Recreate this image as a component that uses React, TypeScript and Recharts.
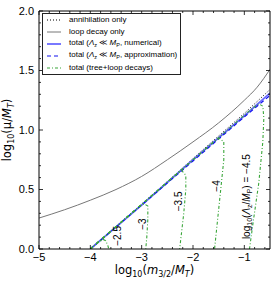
import { LineChart, Line, XAxis, YAxis, Legend, ReferenceDot, ReferenceLine } from 'recharts';

const FONT = '"Liberation Sans", Arial, sans-serif';
const MATH = '"DejaVu Sans", sans-serif';

// axis ticks
const xMajor = [-5, -4, -3, -2, -1];
const xMinor = [-4.8, -4.6, -4.4, -4.2, -3.8, -3.6, -3.4, -3.2, -2.8, -2.6, -2.4, -2.2, -1.8, -1.6, -1.4, -1.2, -0.8, -0.6];
const yMajor = [0, 0.5, 1, 1.5, 2];
const yMinor = [0.1, 0.2, 0.3, 0.4, 0.6, 0.7, 0.8, 0.9, 1.1, 1.2, 1.3, 1.4, 1.6, 1.7, 1.8, 1.9];

// loop decay only
const loopX = [-5, -4.5, -4, -3.5, -3, -2.5, -2, -1.5, -1, -0.75, -0.5];
const loopY = [0.26, 0.33, 0.41, 0.5, 0.61, 0.75, 0.9, 1.06, 1.25, 1.36, 1.51];

// annihilation only
const annX = [-4, -3, -2, -1, -0.5];
const annY = [0, 0.37, 0.76, 1.14, 1.34];

// total, numerical / approximation
const totX = [-4, -3, -2, -1, -0.5];
const numY = [0, 0.37, 0.75, 1.12, 1.31];
const apxY = [0, 0.37, 0.74, 1.11, 1.29];

// total (tree+loop decays), one curve per log10(Λz/MP)
const tree25X = [-4, -3.85, -3.75, -3.7, -3.66, -3.64];
const tree25Y = [0, 0.056, 0.08, 0.07, 0.03, 0];
const tree30X = [-4, -3.05, -2.95, -2.88, -2.88, -2.9, -2.92];
const tree30Y = [0, 0.356, 0.38, 0.36, 0.25, 0.1, 0];
const tree35X = [-4, -2.35, -2.22, -2.14, -2.14, -2.18, -2.26];
const tree35Y = [0, 0.62, 0.66, 0.62, 0.5, 0.3, 0];
const tree40X = [-4, -1.6, -1.48, -1.4, -1.4, -1.46, -1.52, -1.58];
const tree40Y = [0, 0.9, 0.93, 0.9, 0.75, 0.5, 0.25, 0];
const tree45X = [-4, -0.85, -0.72, -0.64, -0.62, -0.64, -0.72, -0.82, -0.9];
const tree45Y = [0, 1.18, 1.22, 1.2, 1.1, 0.9, 0.55, 0.25, 0];

const treeCurves = [
  { name: '-2.5', xs: tree25X, ys: tree25Y },
  { name: '-3', xs: tree30X, ys: tree30Y },
  { name: '-3.5', xs: tree35X, ys: tree35Y },
  { name: '-4', xs: tree40X, ys: tree40Y },
  { name: '-4.5', xs: tree45X, ys: tree45Y },
];

// curve labels (log10(Λz/MP) values) placed next to the drops
const curveLabelText = ['−2.5', '−3', '−3.5', '−4', '−4.5'];
const curveLabelX = [-3.48, -2.99, -2.29, -1.55, -0.96];
const curveLabelY = [0.11, 0.21, 0.4, 0.53, 0.44];

const pts = (xs: number[], ys: number[]) => xs.map((x, i) => ({ x, y: ys[i] }));

const GREEN = '#3aa63a';
const GREEN_DASH = '3 2 1 2';

const minus = (v: number) => (v < 0 ? '−' + Math.abs(v) : String(v));

// inward tick marks on both ends of a reference line (matplotlib style box ticks)
const vTicks = (len: number) => (p: any) => {
  const top = Math.min(p.y1, p.y2);
  const bot = Math.max(p.y1, p.y2);
  return (
    <g stroke="#000" strokeWidth={0.8}>
      <line x1={p.x1} y1={top} x2={p.x1} y2={top + len} />
      <line x1={p.x1} y1={bot} x2={p.x1} y2={bot - len} />
    </g>
  );
};
const hTicks = (len: number) => (p: any) => {
  const l = Math.min(p.x1, p.x2);
  const r = Math.max(p.x1, p.x2);
  return (
    <g stroke="#000" strokeWidth={0.8}>
      <line x1={l} y1={p.y1} x2={l + len} y2={p.y1} />
      <line x1={r} y1={p.y1} x2={r - len} y2={p.y1} />
    </g>
  );
};

function LegendBox() {
  const row = (sample: React.ReactNode, label: React.ReactNode) => (
    <div style={{ display: 'flex', alignItems: 'center', height: 12 }}>
      <svg width={14} height={6} style={{ marginLeft: 4, marginRight: 8 }}>
        {sample}
      </svg>
      <span>{label}</span>
    </div>
  );
  const sub = (t: string) => <sub style={{ fontSize: 5.5, verticalAlign: -1.5 }}>{t}</sub>;
  return (
    <div
      style={{
        width: 137,
        height: 60,
        border: '1px solid #222',
        background: '#fff',
        fontFamily: FONT,
        fontSize: 8,
        color: '#000',
        lineHeight: '12px',
      }}
    >
      {row(<line x1={0} y1={3} x2={14} y2={3} stroke="#000" strokeDasharray="1 2" />, 'annihilation only')}
      {row(<line x1={0} y1={3} x2={14} y2={3} stroke="#777" strokeWidth={1} />, 'loop decay only')}
      {row(
        <line x1={0} y1={3} x2={14} y2={3} stroke="#6a6aff" strokeWidth={1.8} />,
        <>total (<i>Λ</i>{sub('z')} ≪ <i>M</i>{sub('P')}, numerical)</>,
      )}
      {row(
        <line x1={0} y1={3} x2={14} y2={3} stroke="#1010ee" strokeWidth={1.2} strokeDasharray="4 3" />,
        <>total (<i>Λ</i>{sub('z')} ≪ <i>M</i>{sub('P')}, approximation)</>,
      )}
      {row(
        <line x1={0} y1={3} x2={14} y2={3} stroke={GREEN} strokeWidth={1.2} strokeDasharray={GREEN_DASH} />,
        'total (tree+loop decays)',
      )}
    </div>
  );
}

function CurveLabel(props: any) {
  const { cx, cy, text } = props;
  const last = text === '−4.5';
  return (
    <text
      x={cx}
      y={cy}
      dy="0.35em"
      textAnchor="middle"
      transform={`rotate(-90, ${cx}, ${cy})`}
      fontFamily={FONT}
      fontSize={10}
      fill="#000"
    >
      {last ? (
        <>
          <tspan>log</tspan>
          <tspan fontSize={7} dy={2}>10</tspan>
          <tspan dy={-2}>(</tspan>
          <tspan fontStyle="italic">Λ</tspan>
          <tspan fontSize={7} dy={2}>z</tspan>
          <tspan dy={-2}>/</tspan>
          <tspan fontStyle="italic">M</tspan>
          <tspan fontSize={7} dy={2}>P</tspan>
          <tspan dy={-2}>) = {text}</tspan>
        </>
      ) : (
        text
      )}
    </text>
  );
}

function XLabel(props: any) {
  const { viewBox } = props;
  const cx = viewBox.x + viewBox.width / 2;
  const y = viewBox.y + 25;
  return (
    <text x={cx} y={y} textAnchor="middle" fontFamily={MATH} fontSize={11.5} fill="#000">
      <tspan>log</tspan>
      <tspan fontSize={8} dy={3}>10</tspan>
      <tspan dy={-3}>(</tspan>
      <tspan fontStyle="italic">m</tspan>
      <tspan fontSize={8} dy={3}>3/2</tspan>
      <tspan dy={-3}>/</tspan>
      <tspan fontStyle="italic">M</tspan>
      <tspan fontSize={8} dy={3} fontStyle="italic">T</tspan>
      <tspan dy={-3}>)</tspan>
    </text>
  );
}

function YLabel(props: any) {
  const { viewBox } = props;
  const cy = viewBox.y + viewBox.height / 2;
  const x = 11;
  return (
    <text x={x} y={cy} textAnchor="middle" transform={`rotate(-90, ${x}, ${cy})`} fontFamily={MATH} fontSize={11.5} fill="#000">
      <tspan>log</tspan>
      <tspan fontSize={8} dy={3}>10</tspan>
      <tspan dy={-3}>(μ/</tspan>
      <tspan fontStyle="italic">M</tspan>
      <tspan fontSize={8} dy={3} fontStyle="italic">T</tspan>
      <tspan dy={-3}>)</tspan>
    </text>
  );
}

const xDomain: [number, number] = [-5, -0.5];
const yDomain: [number, number] = [0, 2];
const border = { stroke: '#000', strokeWidth: 1 };

export default function App() {
  return (
    <div style={{ position: 'absolute', left: 0, top: 0, width: 276, height: 285, background: '#fff' }}>
      <LineChart width={276} height={285} margin={{ top: 11, right: 6, bottom: 0, left: 0 }}>
        <XAxis
          type="number"
          dataKey="x"
          domain={xDomain}
          allowDataOverflow
          ticks={xMajor}
          interval={0}
          tickFormatter={minus}
          tickLine={false}
          tickSize={0}
          tickMargin={4}
          axisLine={border}
          tick={{ fontSize: 11, fill: '#000', fontFamily: FONT }}
          height={36}
          label={{ content: (p: any) => <XLabel {...p} /> }}
        />
        <YAxis
          type="number"
          domain={yDomain}
          allowDataOverflow
          ticks={yMajor}
          interval={0}
          tickFormatter={(v: number) => v.toFixed(1)}
          tickLine={false}
          tickSize={0}
          tickMargin={5}
          axisLine={border}
          tick={{ fontSize: 11, fill: '#000', fontFamily: FONT }}
          width={39}
          label={{ content: (p: any) => <YLabel {...p} /> }}
        />

        <Line data={pts(loopX, loopY)} dataKey="y" type="monotone" stroke="#777" strokeWidth={1} dot={false} isAnimationActive={false} />
        <Line data={pts(annX, annY)} dataKey="y" type="linear" stroke="#000" strokeWidth={1} strokeDasharray="1 2" dot={false} isAnimationActive={false} />
        <Line data={pts(totX, numY)} dataKey="y" type="linear" stroke="#6a6aff" strokeWidth={1.8} dot={false} isAnimationActive={false} />
        <Line data={pts(totX, apxY)} dataKey="y" type="linear" stroke="#1010ee" strokeWidth={1.2} strokeDasharray="4 3" dot={false} isAnimationActive={false} />
        {treeCurves.map((c) => (
          <Line
            key={c.name}
            data={pts(c.xs, c.ys)}
            dataKey="y"
            type="linear"
            stroke={GREEN}
            strokeWidth={1.1}
            strokeDasharray={GREEN_DASH}
            dot={false}
            isAnimationActive={false}
          />
        ))}

        {/* top and right frame */}
        <ReferenceLine y={2} stroke="#000" strokeWidth={1} />
        <ReferenceLine x={-0.5} stroke="#000" strokeWidth={1} />
        {xMajor.map((v) => <ReferenceLine key={'xM' + v} x={v} shape={vTicks(4)} />)}
        {xMinor.map((v) => <ReferenceLine key={'xm' + v} x={v} shape={vTicks(2)} />)}
        {yMajor.map((v) => <ReferenceLine key={'yM' + v} y={v} shape={hTicks(4)} />)}
        {yMinor.map((v) => <ReferenceLine key={'ym' + v} y={v} shape={hTicks(2)} />)}

        {curveLabelText.map((t, i) => (
          <ReferenceDot
            key={t}
            x={curveLabelX[i]}
            y={curveLabelY[i]}
            r={0}
            shape={(p: any) => <CurveLabel {...p} text={t} />}
          />
        ))}

        <Legend
          layout="horizontal"
          verticalAlign="middle"
          align="center"
          wrapperStyle={{ left: 42, top: 13, width: 139, height: 62 }}
          content={() => <LegendBox />}
        />
      </LineChart>
    </div>
  );
}
